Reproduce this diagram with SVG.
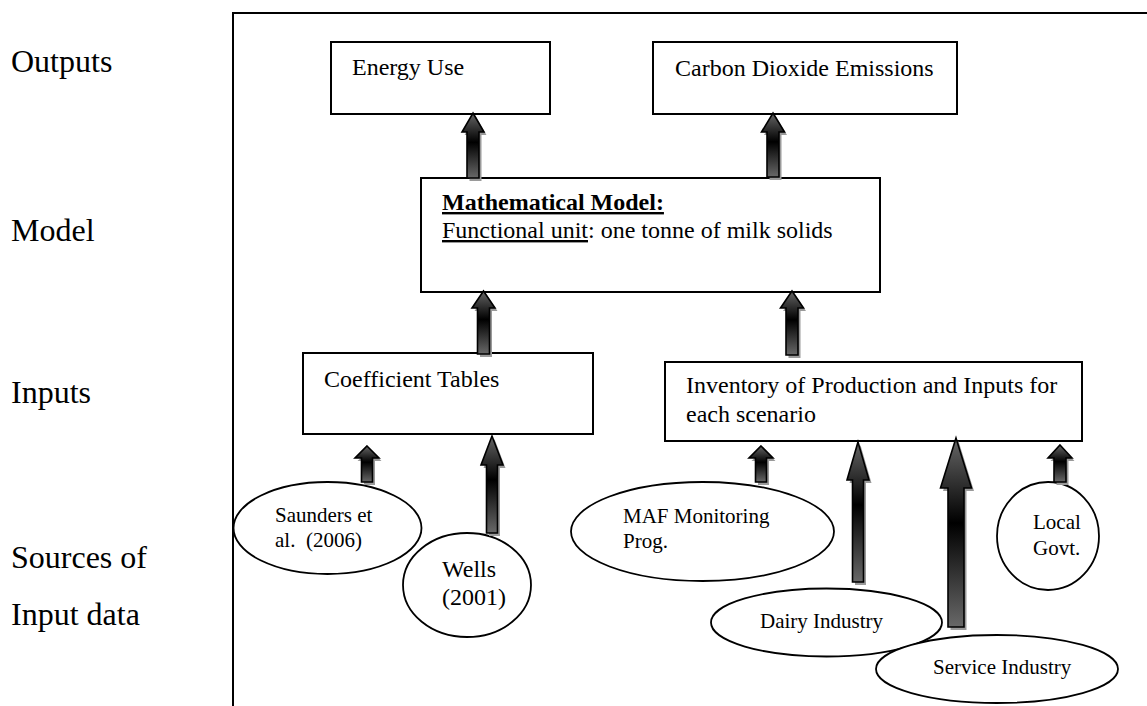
<svg xmlns="http://www.w3.org/2000/svg" width="1147" height="706" viewBox="0 0 1147 706">
<style>
text { font-family: "Liberation Serif", "Times New Roman", serif; fill: #000; }
.lbl { font-size: 32px; }
.nt { font-size: 24px; }
.et { font-size: 21px; }
.box { fill: #fff; stroke: #000; stroke-width: 2; }
.ell { fill: #fff; stroke: #000; stroke-width: 1.8; }
.frame { stroke: #000; stroke-width: 2; fill: none; }
.arr { fill: url(#ag); stroke: #000; stroke-width: 1.6; stroke-linejoin: miter; }
.shd { fill: #9a9a9a; stroke: none; }
</style>
<defs>
<linearGradient id="ag" x1="0" y1="0" x2="0" y2="1">
<stop offset="0" stop-color="#666"/>
<stop offset="0.45" stop-color="#000"/>
<stop offset="1" stop-color="#686868"/>
</linearGradient>
</defs>
<rect width="1147" height="706" fill="#fff"/>

<g id="frame">
<path class="frame" d="M233,706 L233,13 L1147,13"/>
</g>

<g id="row-labels">
<text class="lbl" x="11" y="72">Outputs</text>
<text class="lbl" x="11" y="241">Model</text>
<text class="lbl" x="11" y="403">Inputs</text>
<text class="lbl" x="11" y="568">Sources of</text>
<text class="lbl" x="11" y="625">Input data</text>
</g>

<g id="node-energy">
<rect class="box" x="331" y="42" width="219" height="72"/>
<text class="nt" x="352" y="75">Energy Use</text>
</g>

<g id="node-co2">
<rect class="box" x="653" y="42" width="304" height="72"/>
<text class="nt" x="675" y="76">Carbon Dioxide Emissions</text>
</g>

<g id="node-model">
<rect class="box" x="421" y="178" width="459" height="114"/>
<text class="nt" x="442" y="210" font-weight="bold" text-decoration="underline">Mathematical Model:</text>
<text class="nt" x="442" y="238"><tspan text-decoration="underline">Functional unit</tspan>: one tonne of milk solids</text>
</g>

<g id="node-coeff">
<rect class="box" x="303" y="353" width="290" height="81"/>
<text class="nt" x="324" y="387">Coefficient Tables</text>
</g>

<g id="node-inventory">
<rect class="box" x="665" y="362" width="417" height="79"/>
<text class="nt" x="686" y="393">Inventory of Production and Inputs for</text>
<text class="nt" x="686" y="422">each scenario</text>
</g>

<g id="node-saunders">
<ellipse class="ell" cx="327.5" cy="528" rx="94" ry="46"/>
<text class="et" x="275" y="522">Saunders et</text>
<text class="et" x="275" y="547" xml:space="preserve">al.  (2006)</text>
</g>

<g id="node-wells">
<ellipse class="ell" cx="467" cy="585" rx="64" ry="52"/>
<text class="nt" x="442" y="577">Wells</text>
<text class="nt" x="442" y="605">(2001)</text>
</g>

<g id="node-maf">
<ellipse class="ell" cx="702.5" cy="531.5" rx="131.5" ry="49.5"/>
<text class="et" x="623" y="523">MAF Monitoring</text>
<text class="et" x="623" y="548">Prog.</text>
</g>

<g id="node-dairy">
<ellipse class="ell" cx="826.5" cy="622.5" rx="115.5" ry="34"/>
<text class="et" x="760" y="628" font-size="20">Dairy Industry</text>
</g>

<g id="node-service">
<ellipse class="ell" cx="997" cy="669" rx="121" ry="34"/>
<text class="et" x="933" y="674" font-size="20">Service Industry</text>
</g>

<g id="node-local">
<ellipse class="ell" cx="1048" cy="536" rx="51" ry="54"/>
<text class="et" x="1033" y="529">Local</text>
<text class="et" x="1033" y="555">Govt.</text>
</g>

<g id="connectors">
<!-- energy -->
<path class="shd" transform="translate(2.5,3)" d="M473,113 L484,132 L479,132 L479,178 L467,178 L467,132 L462,132 Z"/>
<path class="arr" d="M473,113 L484,132 L479,132 L479,178 L467,178 L467,132 L462,132 Z"/>
<!-- co2 -->
<path class="shd" transform="translate(2.5,3)" d="M773,113 L784.5,132 L779,132 L779,177 L767,177 L767,132 L761.5,132 Z"/>
<path class="arr" d="M773,113 L784.5,132 L779,132 L779,177 L767,177 L767,132 L761.5,132 Z"/>
<!-- coeff to model -->
<path class="shd" transform="translate(2.5,3)" d="M483.5,291 L495,308 L489.5,308 L489.5,354 L477.5,354 L477.5,308 L472,308 Z"/>
<path class="arr" d="M483.5,291 L495,308 L489.5,308 L489.5,354 L477.5,354 L477.5,308 L472,308 Z"/>
<!-- inventory to model -->
<path class="shd" transform="translate(2.5,3)" d="M792,291 L803.5,308 L798,308 L798,355 L786,355 L786,308 L780.5,308 Z"/>
<path class="arr" d="M792,291 L803.5,308 L798,308 L798,355 L786,355 L786,308 L780.5,308 Z"/>
<!-- saunders -->
<path class="shd" transform="translate(2.5,3)" d="M367,446 L379,458 L372.5,458 L372.5,482 L361.5,482 L361.5,458 L355,458 Z"/>
<path class="arr" d="M367,446 L379,458 L372.5,458 L372.5,482 L361.5,482 L361.5,458 L355,458 Z"/>
<!-- wells -->
<path class="shd" transform="translate(2.5,3)" d="M492,436 L503,465 L497.5,465 L497.5,533 L486.5,533 L486.5,465 L481,465 Z"/>
<path class="arr" d="M492,436 L503,465 L497.5,465 L497.5,533 L486.5,533 L486.5,465 L481,465 Z"/>
<!-- maf -->
<path class="shd" transform="translate(2.5,3)" d="M761,446 L773,458 L766.5,458 L766.5,482 L755.5,482 L755.5,458 L749,458 Z"/>
<path class="arr" d="M761,446 L773,458 L766.5,458 L766.5,482 L755.5,482 L755.5,458 L749,458 Z"/>
<!-- dairy -->
<path class="shd" transform="translate(2.5,3)" d="M858,442 L869,480 L863.5,480 L863.5,582 L852.5,582 L852.5,480 L847,480 Z"/>
<path class="arr" d="M858,442 L869,480 L863.5,480 L863.5,582 L852.5,582 L852.5,480 L847,480 Z"/>
<!-- service -->
<path class="shd" transform="translate(2.5,3)" d="M956,438 L971.5,488 L964,488 L964,627 L948,627 L948,488 L940.5,488 Z"/>
<path class="arr" d="M956,438 L971.5,488 L964,488 L964,627 L948,627 L948,488 L940.5,488 Z"/>
<!-- local -->
<path class="shd" transform="translate(2.5,3)" d="M1060,445 L1072,458 L1066,458 L1066,482 L1054,482 L1054,458 L1048,458 Z"/>
<path class="arr" d="M1060,445 L1072,458 L1066,458 L1066,482 L1054,482 L1054,458 L1048,458 Z"/>
</g>
</svg>
